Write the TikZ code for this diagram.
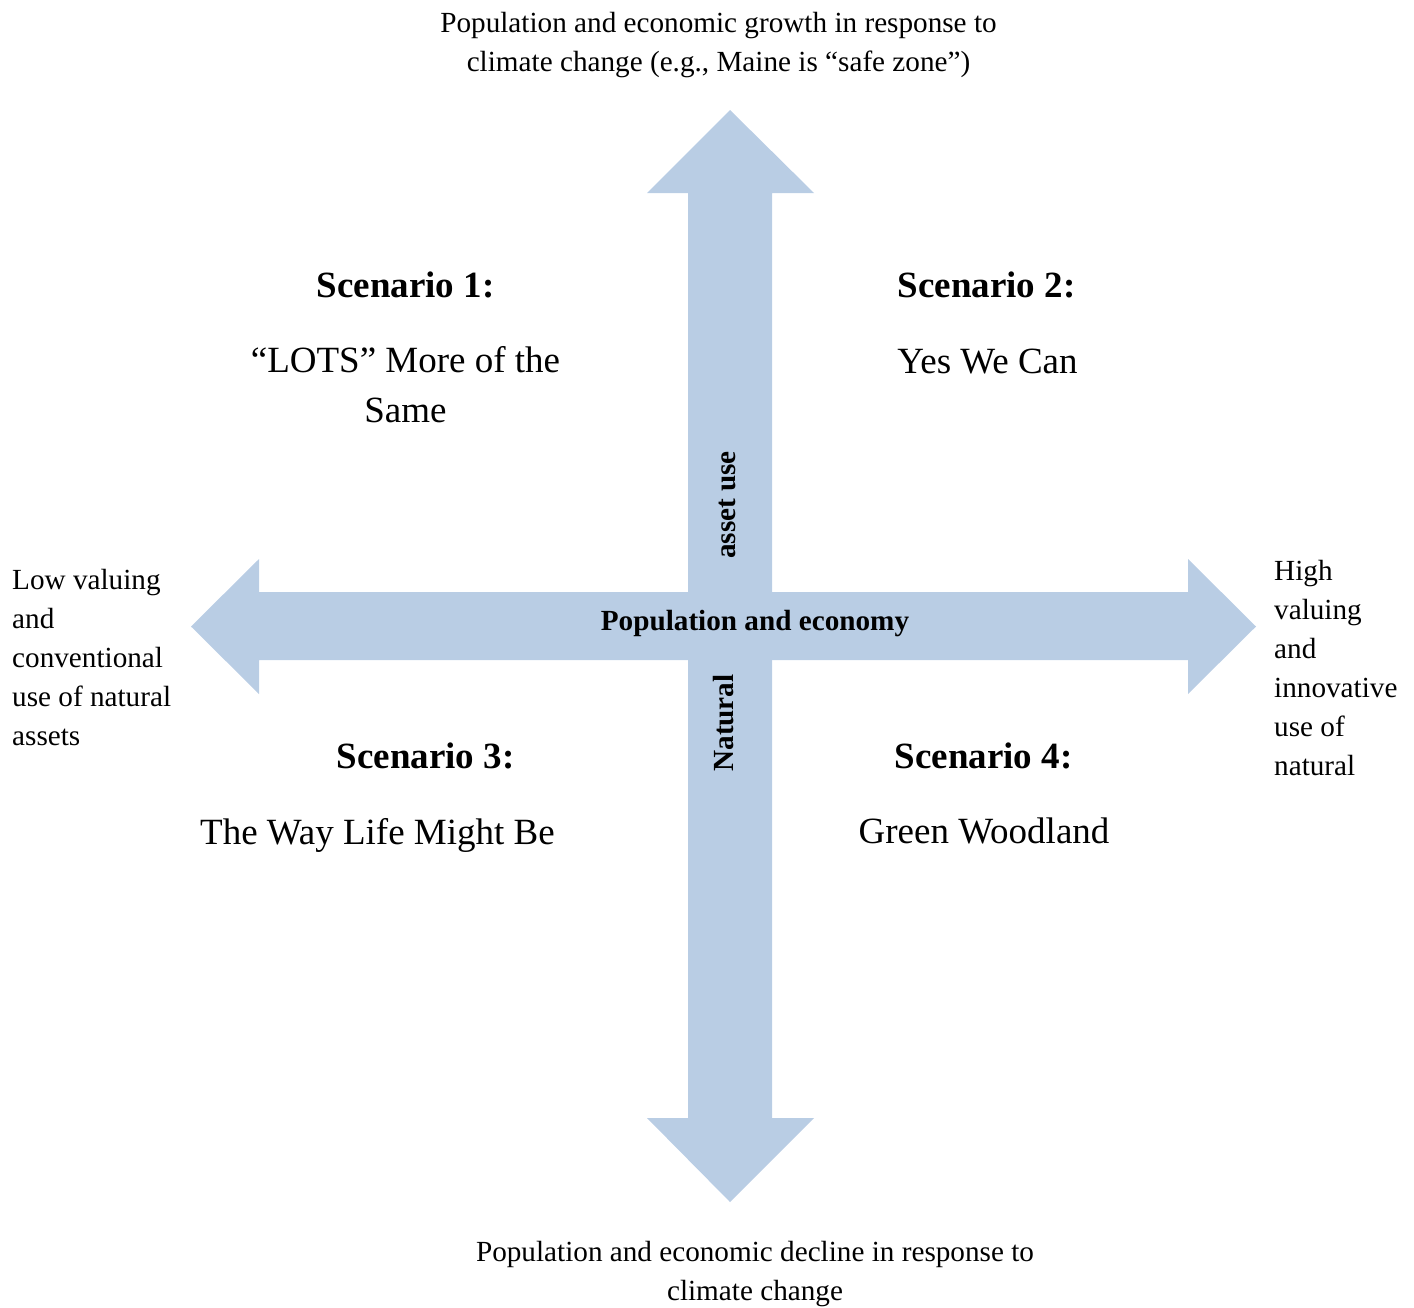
\documentclass[tikz,border=0pt]{standalone}
\usepackage{fontspec}
\setmainfont{Liberation Serif}
\definecolor{axisblue}{RGB}{185,205,228}
\begin{document}
\begin{tikzpicture}[x=1pt,y=-1pt,
  axis/.style={fill=axisblue, draw=none},
  small/.style={font=\fontsize{29.2}{39}\selectfont, inner sep=0pt},
  big/.style={font=\fontsize{37}{50}\selectfont, inner sep=0pt},
  heading/.style={font=\fontsize{37}{50}\selectfont\bfseries, inner sep=0pt},
  axislabel/.style={font=\fontsize{29.2}{39}\selectfont\bfseries, inner sep=0pt},
]
\useasboundingbox (0,0) rectangle (1414,1307);

% vertical double arrow
\fill[axis] (688,193) -- (647,193) -- (730,110) -- (814,193) -- (772,193)
  -- (772,1118) -- (814,1118) -- (730,1202) -- (647,1118) -- (688,1118) -- cycle;
% horizontal double arrow
\fill[axis] (259,592) -- (259,559) -- (191,626.5) -- (259,694) -- (259,660)
  -- (1188,660) -- (1188,694) -- (1256,626.5) -- (1188,559) -- (1188,592) -- cycle;

% axis labels
\node[axislabel, anchor=base] (econ) at (755,630) {Population and economy};
\node[axislabel, rotate=90] (assetuse) at (727,505) {asset use};
\node[axislabel, rotate=90] (natural) at (724,723) {Natural};

% ends of the vertical axis (anchored at the baseline of the last line)
\node[small, align=center, anchor=base] (growth) at (718.5,71)
  {Population and economic growth in response to\\climate change (e.g., Maine is “safe zone”)};
\node[small, align=center, anchor=base] (decline) at (755,1300)
  {Population and economic decline in response to\\climate change};

% ends of the horizontal axis
\node[small, align=left, anchor=base west] (low) at (12,745)
  {Low valuing\\and\\conventional\\use of natural\\assets};
\node[small, align=left, anchor=base west] (high) at (1274,775)
  {High\\valuing\\and\\innovative\\use of\\natural};

% scenarios
\node[heading, anchor=base] (s1) at (405.5,297) {Scenario 1:};
\node[big, align=center, anchor=base] (t1) at (405.5,422) {“LOTS” More of the\\Same};
\node[heading, anchor=base] (s2) at (986.5,297) {Scenario 2:};
\node[big, anchor=base] (t2) at (987.5,373) {Yes We Can};
\node[heading, anchor=base] (s3) at (425.5,768) {Scenario 3:};
\node[big, anchor=base] (t3) at (377.5,844) {The Way Life Might Be};
\node[heading, anchor=base] (s4) at (983.5,768) {Scenario 4:};
\node[big, anchor=base] (t4) at (984,843) {Green Woodland};
\end{tikzpicture}
\end{document}
